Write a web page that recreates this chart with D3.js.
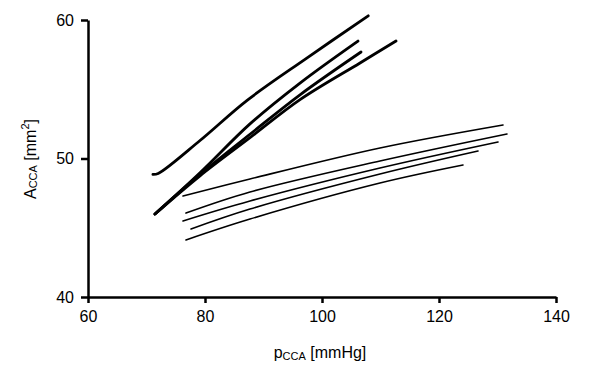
<!DOCTYPE html>
<html>
<head>
<meta charset="utf-8">
<script src="https://cdn.jsdelivr.net/npm/d3@7"></script>
<style>
  html, body { margin: 0; padding: 0; background: #fff; }
  svg { display: block; font-family: Arial, "Liberation Sans", sans-serif; }
</style>
</head>
<body>
<div id="chart"></div>
<script>
// Courbes pression-aire (pCCA en mmHg, ACCA en mm²).
const xTicks = [60, 80, 100, 120, 140]
const yTicks = [40, 50, 60]

// Groupe "raide" : traits épais
const steepA = [[71.1, 48.85], [72.0, 48.92], [79.15, 51.3], [87.2, 54.2], [97.4, 57.25], [107.9, 60.3]]
const steepB = [[71.45, 45.99], [79.15, 48.97], [87.69, 52.5], [96.24, 55.45], [106.15, 58.48]]
const steepC = [[71.45, 45.99], [79.15, 48.85], [87.69, 51.75], [96.24, 54.6], [106.67, 57.69]]
const steepD = [[71.45, 45.99], [79.15, 48.75], [87.69, 51.5], [96.24, 54.25], [106.5, 56.9], [112.65, 58.48]]

// Groupe "plat" : traits fins
const flat1 = [[76.24, 47.29], [87.69, 48.52], [109.91, 50.76], [130.94, 52.42]]
const flat2 = [[76.75, 46.06], [87.69, 47.58], [109.91, 49.82], [131.62, 51.77]]
const flat3 = [[76.24, 45.49], [87.69, 46.93], [109.91, 49.31], [130.09, 51.19]]
const flat4 = [[77.61, 44.91], [87.69, 46.35], [109.91, 48.88], [126.67, 50.54]]
const flat5 = [[76.75, 44.12], [87.69, 45.63], [109.91, 48.23], [124.10, 49.53]]

const thick = [steepA, steepB, steepC, steepD]
const thin = [flat1, flat2, flat3, flat4, flat5]

const W = 613, H = 365
const svg = d3.select("#chart").append("svg")
  .attr("width", W).attr("height", H)

const x = d3.scaleLinear().domain([60, 140]).range([88, 556])
const y = d3.scaleLinear().domain([40, 60]).range([297, 20])

const line = d3.line()
  .x(d => x(d[0])).y(d => y(d[1]))
  .curve(d3.curveCatmullRom.alpha(0.5))

// --- courbes ---
svg.append("g").selectAll("path")
  .data(thin).join("path")
  .attr("d", line)
  .attr("fill", "none").attr("stroke", "#000").attr("stroke-width", 1.6)
  .attr("stroke-linecap", "round")

svg.append("g").selectAll("path")
  .data(thick).join("path")
  .attr("d", line)
  .attr("fill", "none").attr("stroke", "#000").attr("stroke-width", 2.8)
  .attr("stroke-linecap", "round")

// --- axes ---
const xAxis = svg.append("g")
  .attr("transform", `translate(0,${y(40)})`)
  .call(d3.axisBottom(x).tickValues(xTicks).tickSize(6).tickPadding(8).tickSizeOuter(0))
xAxis.select(".domain").attr("stroke-width", 2.5)
xAxis.selectAll(".tick line").attr("stroke-width", 2.5)
xAxis.selectAll("text").attr("font-size", 16).attr("font-family", "Arial, 'Liberation Sans', sans-serif")

const yAxis = svg.append("g")
  .attr("transform", `translate(${x(60)},0)`)
  .call(d3.axisLeft(y).tickValues(yTicks).tickSize(7).tickPadding(7).tickSizeOuter(0))
yAxis.select(".domain").attr("stroke-width", 2.5)
yAxis.selectAll(".tick line").attr("stroke-width", 2.5)
yAxis.selectAll("text").attr("font-size", 16).attr("font-family", "Arial, 'Liberation Sans', sans-serif")

// --- titres d'axes ---
const xt = svg.append("text")
  .attr("x", 320).attr("y", 358)
  .attr("text-anchor", "middle").attr("font-size", 16)
xt.append("tspan").text("p")
xt.append("tspan").attr("font-size", 11).attr("dy", 2).text("CCA")
xt.append("tspan").attr("dy", -2).text(" [mmHg]")

const yt = svg.append("text")
  .attr("transform", `translate(36,159) rotate(-90)`)
  .attr("text-anchor", "middle").attr("font-size", 16)
yt.append("tspan").text("A")
yt.append("tspan").attr("font-size", 11).attr("dy", 1).text("CCA")
yt.append("tspan").attr("dy", -1).text(" [mm")
yt.append("tspan").attr("font-size", 11).attr("dy", -7).text("2")
yt.append("tspan").attr("dy", 7).text("]")
</script>
</body>
</html>
